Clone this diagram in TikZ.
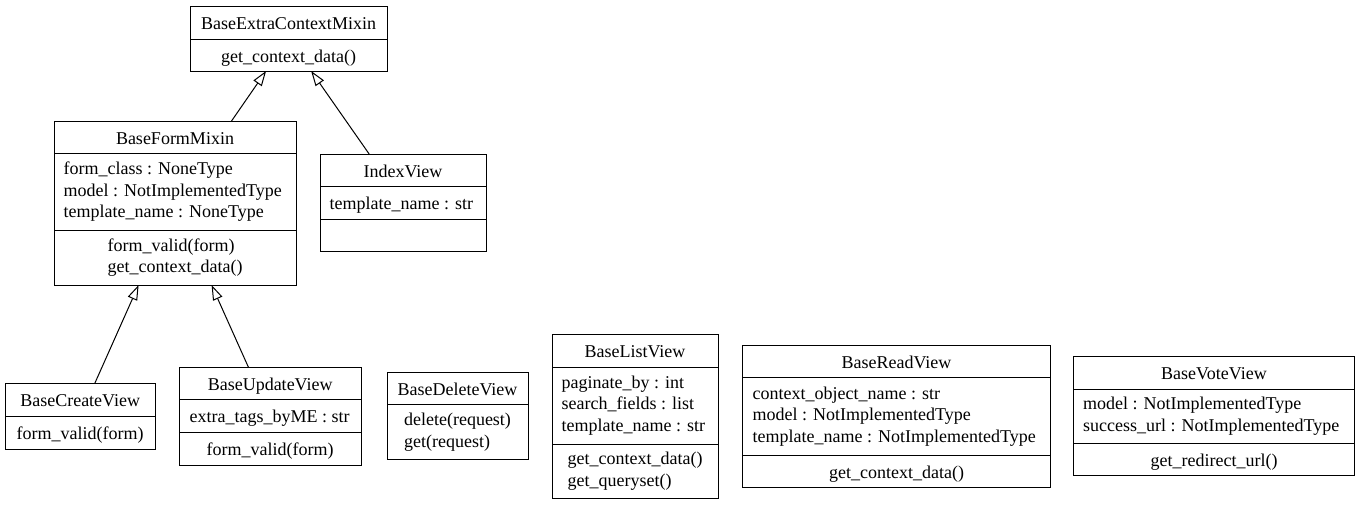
\documentclass[tikz,border=0pt]{standalone}
\usepackage{fontspec}
\setmainfont{Liberation Serif}
\usetikzlibrary{arrows.meta}
\newcommand{\cf}{\fontsize{18}{21.5}\selectfont}
\newcommand{\lnst}{\rule[-3.3pt]{0pt}{21.5pt}}
\newcommand{\umlbox}[5]{\node[cls, minimum width={#4pt-#2pt}, minimum height={#5pt-#3pt}] (#1) at ({(#2+#4)/2},{(#3+#5)/2}) {};}
\newcommand{\umldiv}[2]{\draw[line width=1pt] (#1.west |- 0,#2) -- (#1.east |- 0,#2);}
\tikzset{
  cls/.style={draw, line width=1pt, inner sep=0pt, outer sep=0pt},
  ttl/.style={inner sep=0pt, font=\cf, execute at begin node=\lnst, execute at end node=\lnst},
  attr/.style={ttl, anchor=west, align=left},
  meth/.style={ttl, align=left},
  inh/.style={-{Triangle[open,length=15pt,width=10pt]}, line width=1pt},
}
\begin{document}
\begin{tikzpicture}[x=1pt,y=-1pt]
\useasboundingbox (0,0) rectangle (1359,504);
% BaseExtraContextMixin
\umlbox{bec}{190}{6}{387}{71}
\umldiv{bec}{39}
\node[ttl] (becT) at (288.5,22.5) {BaseExtraContextMixin};
\node[meth] (becM) at (288.5,55) {get\_context\_data()};
% BaseFormMixin
\umlbox{bfm}{54}{121}{296}{285}
\umldiv{bfm}{153.5}
\umldiv{bfm}{230}
\node[ttl] (bfmT) at (175,137.3) {BaseFormMixin};
\node[attr] (bfmA) at (63.5,191.8) {form\_class : NoneType\\model : NotImplementedType\\template\_name : NoneType};
\node[meth] (bfmM) at (175,257.5) {form\_valid(form)\\get\_context\_data()};
% IndexView
\umlbox{idx}{320}{154}{486}{251}
\umldiv{idx}{186}
\umldiv{idx}{219}
\node[ttl] (idxT) at (403,170) {IndexView};
\node[attr] (idxA) at (329.5,202.5) {template\_name : str};
% BaseCreateView
\umlbox{bcv}{5}{383}{155.5}{449}
\umldiv{bcv}{416}
\node[ttl] (bcvT) at (80.2,399.5) {BaseCreateView};
\node[meth] (bcvM) at (80.2,432.5) {form\_valid(form)};
% BaseUpdateView
\umlbox{buv}{179.5}{367}{361}{465}
\umldiv{buv}{399.5}
\umldiv{buv}{432}
\node[ttl] (buvT) at (270.2,383.2) {BaseUpdateView};
\node[attr] (buvA) at (189.5,415.8) {extra\_tags\_byME : str};
\node[meth] (buvM) at (270.2,448.5) {form\_valid(form)};
% BaseDeleteView
\umlbox{bdv}{387}{372}{528}{459.5}
\umldiv{bdv}{404.5}
\node[ttl] (bdvT) at (457.5,388.2) {BaseDeleteView};
\node[meth] (bdvM) at (457.5,432) {delete(request)\\get(request)};
% BaseListView
\umlbox{blv}{552}{334}{718}{498}
\umldiv{blv}{367}
\umldiv{blv}{444}
\node[ttl] (blvT) at (635,350.5) {BaseListView};
\node[attr] (blvA) at (561.5,405.5) {paginate\_by : int\\search\_fields : list\\template\_name : str};
\node[meth] (blvM) at (635,471) {get\_context\_data()\\get\_queryset()};
% BaseReadView
\umlbox{brv}{742.5}{345}{1050.5}{487}
\umldiv{brv}{377.5}
\umldiv{brv}{455}
\node[ttl] (brvT) at (896.5,361.3) {BaseReadView};
\node[attr] (brvA) at (752.5,416.3) {context\_object\_name : str\\model : NotImplementedType\\template\_name : NotImplementedType};
\node[meth] (brvM) at (896.5,471) {get\_context\_data()};
% BaseVoteView
\umlbox{bvv}{1073.5}{356}{1354.5}{475.5}
\umldiv{bvv}{389}
\umldiv{bvv}{443.5}
\node[ttl] (bvvT) at (1214,372.5) {BaseVoteView};
\node[attr] (bvvA) at (1083,416.3) {model : NotImplementedType\\success\_url : NotImplementedType};
\node[meth] (bvvM) at (1214,459.5) {get\_redirect\_url()};
% inheritance
\draw[inh] (bfm) -- (bec);
\draw[inh] (idx) -- (bec);
\draw[inh] (bcv) -- (bfm);
\draw[inh] (buv) -- (bfm);
\end{tikzpicture}
\end{document}
